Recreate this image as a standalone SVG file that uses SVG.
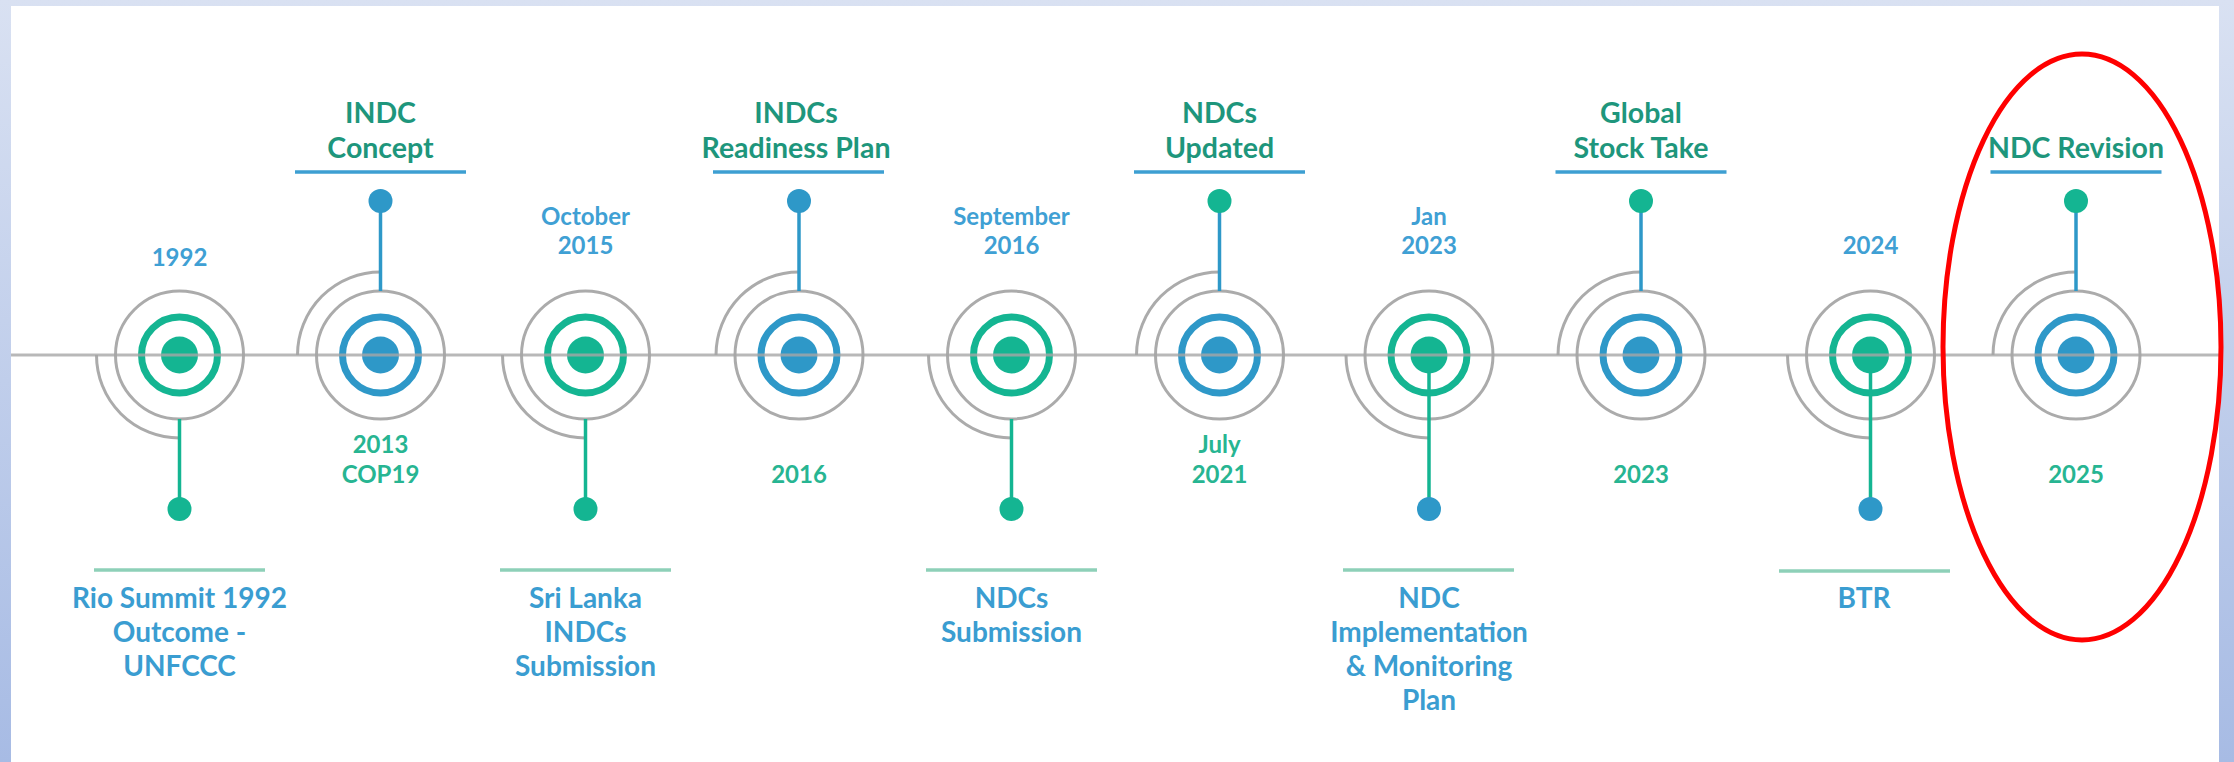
<svg xmlns="http://www.w3.org/2000/svg" width="2234" height="762" viewBox="0 0 2234 762">
<defs>
<linearGradient id="bg" x1="0" y1="0" x2="0" y2="1">
<stop offset="0" stop-color="#d9e1f2"/>
<stop offset="1" stop-color="#a7bbe4"/>
</linearGradient>
</defs>
<style>
.arc{fill:none;stroke:#ababab;stroke-width:3}
.gc{fill:none;stroke:#ababab;stroke-width:3}
.rg{fill:none;stroke:#14b592;stroke-width:7}
.rb{fill:none;stroke:#2e98c8;stroke-width:7}
.fg{fill:#14b592}
.fb{fill:#2e98c8}
.sg{stroke:#14b592;stroke-width:3.5}
.sb{stroke:#2e98c8;stroke-width:3.5}
.ol{stroke:#3d9fd2;stroke-width:3.5}
.ul{stroke:#8ed0b8;stroke-width:3.5}
text{font-family:Lato,"Open Sans","Liberation Sans",sans-serif;font-weight:700;text-anchor:middle}
.tl{font-size:28.5px;fill:#1e967c}
.bl{font-size:28px;fill:#3a9dd1}
.db{font-size:24px;fill:#3fa0d4}
.dg{font-size:24px;fill:#27b592}
.axis{stroke:#a6a6a6;stroke-width:3;stroke-opacity:0.8}
</style>
<rect x="0" y="0" width="2234" height="762" fill="url(#bg)"/>
<rect x="11" y="6" width="2208" height="756" fill="#ffffff"/>

<g id="node-1992">
<path class="arc" d="M96.5,355 A83,83 0 0 0 179.5,438"/>
<circle class="gc" cx="179.5" cy="355" r="64"/>
<circle class="rg" cx="179.5" cy="355" r="38"/>
<circle class="fg" cx="179.5" cy="355" r="18.5"/>
<line class="sg" x1="179.5" y1="419" x2="179.5" y2="509"/>
<circle class="fg" cx="179.5" cy="509" r="12"/>
<line class="ul" x1="94" y1="570" x2="265" y2="570"/>
<text class="db" x="179.5" y="266">1992</text>
<text class="bl" x="179.5" y="608">Rio Summit 1992</text>
<text class="bl" x="179.5" y="642">Outcome -</text>
<text class="bl" x="179.5" y="676">UNFCCC</text>
</g>

<g id="node-indc-concept">
<path class="arc" d="M297.5,355 A83,83 0 0 1 380.5,272"/>
<circle class="gc" cx="380.5" cy="355" r="64"/>
<circle class="rb" cx="380.5" cy="355" r="38"/>
<circle class="fb" cx="380.5" cy="355" r="18.5"/>
<line class="sb" x1="380.5" y1="291" x2="380.5" y2="201"/>
<circle class="fb" cx="380.5" cy="201" r="12"/>
<line class="ol" x1="295" y1="172" x2="466" y2="172"/>
<text class="tl" x="380.5" y="123">INDC</text>
<text class="tl" x="380.5" y="158">Concept</text>
<text class="dg" x="380.5" y="453">2013</text>
<text class="dg" x="380.5" y="483">COP19</text>
</g>

<g id="node-oct-2015">
<path class="arc" d="M502.5,355 A83,83 0 0 0 585.5,438"/>
<circle class="gc" cx="585.5" cy="355" r="64"/>
<circle class="rg" cx="585.5" cy="355" r="38"/>
<circle class="fg" cx="585.5" cy="355" r="18.5"/>
<line class="sg" x1="585.5" y1="419" x2="585.5" y2="509"/>
<circle class="fg" cx="585.5" cy="509" r="12"/>
<line class="ul" x1="500" y1="570" x2="671" y2="570"/>
<text class="db" x="585.5" y="225">October</text>
<text class="db" x="585.5" y="254">2015</text>
<text class="bl" x="585.5" y="608">Sri Lanka</text>
<text class="bl" x="585.5" y="642">INDCs</text>
<text class="bl" x="585.5" y="676">Submission</text>
</g>

<g id="node-indcs-readiness">
<path class="arc" d="M716,355 A83,83 0 0 1 799,272"/>
<circle class="gc" cx="799" cy="355" r="64"/>
<circle class="rb" cx="799" cy="355" r="38"/>
<circle class="fb" cx="799" cy="355" r="18.5"/>
<line class="sb" x1="799" y1="291" x2="799" y2="201"/>
<circle class="fb" cx="799" cy="201" r="12"/>
<line class="ol" x1="713" y1="172" x2="884" y2="172"/>
<text class="tl" x="796" y="123">INDCs</text>
<text class="tl" x="796" y="158">Readiness Plan</text>
<text class="dg" x="799" y="483">2016</text>
</g>

<g id="node-sep-2016">
<path class="arc" d="M928.5,355 A83,83 0 0 0 1011.5,438"/>
<circle class="gc" cx="1011.5" cy="355" r="64"/>
<circle class="rg" cx="1011.5" cy="355" r="38"/>
<circle class="fg" cx="1011.5" cy="355" r="18.5"/>
<line class="sg" x1="1011.5" y1="419" x2="1011.5" y2="509"/>
<circle class="fg" cx="1011.5" cy="509" r="12"/>
<line class="ul" x1="926" y1="570" x2="1097" y2="570"/>
<text class="db" x="1011.5" y="225">September</text>
<text class="db" x="1011.5" y="254">2016</text>
<text class="bl" x="1011.5" y="608">NDCs</text>
<text class="bl" x="1011.5" y="642">Submission</text>
</g>

<g id="node-ndcs-updated">
<path class="arc" d="M1136.5,355 A83,83 0 0 1 1219.5,272"/>
<circle class="gc" cx="1219.5" cy="355" r="64"/>
<circle class="rb" cx="1219.5" cy="355" r="38"/>
<circle class="fb" cx="1219.5" cy="355" r="18.5"/>
<line class="sb" x1="1219.5" y1="291" x2="1219.5" y2="201"/>
<circle class="fg" cx="1219.5" cy="201" r="12"/>
<line class="ol" x1="1134" y1="172" x2="1305" y2="172"/>
<text class="tl" x="1219.5" y="123">NDCs</text>
<text class="tl" x="1219.5" y="158">Updated</text>
<text class="dg" x="1219.5" y="453">July</text>
<text class="dg" x="1219.5" y="483">2021</text>
</g>

<g id="node-jan-2023">
<path class="arc" d="M1346,355 A83,83 0 0 0 1429,438"/>
<circle class="gc" cx="1429" cy="355" r="64"/>
<circle class="rg" cx="1429" cy="355" r="38"/>
<circle class="fg" cx="1429" cy="355" r="18.5"/>
<line class="sg" x1="1429" y1="373" x2="1429" y2="509"/>
<circle class="fb" cx="1429" cy="509" r="12"/>
<line class="ul" x1="1343" y1="570" x2="1514" y2="570"/>
<text class="db" x="1429" y="225">Jan</text>
<text class="db" x="1429" y="254">2023</text>
<text class="bl" x="1429" y="608">NDC</text>
<text class="bl" x="1429" y="642">Implementation</text>
<text class="bl" x="1429" y="676">&amp; Monitoring</text>
<text class="bl" x="1429" y="710">Plan</text>
</g>

<g id="node-global-stock-take">
<path class="arc" d="M1558,355 A83,83 0 0 1 1641,272"/>
<circle class="gc" cx="1641" cy="355" r="64"/>
<circle class="rb" cx="1641" cy="355" r="38"/>
<circle class="fb" cx="1641" cy="355" r="18.5"/>
<line class="sb" x1="1641" y1="291" x2="1641" y2="201"/>
<circle class="fg" cx="1641" cy="201" r="12"/>
<line class="ol" x1="1555.5" y1="172" x2="1726.5" y2="172"/>
<text class="tl" x="1641" y="123">Global</text>
<text class="tl" x="1641" y="158">Stock Take</text>
<text class="dg" x="1641" y="483">2023</text>
</g>

<g id="node-2024-btr">
<path class="arc" d="M1787.5,355 A83,83 0 0 0 1870.5,438"/>
<circle class="gc" cx="1870.5" cy="355" r="64"/>
<circle class="rg" cx="1870.5" cy="355" r="38"/>
<circle class="fg" cx="1870.5" cy="355" r="18.5"/>
<line class="sg" x1="1870.5" y1="373" x2="1870.5" y2="509"/>
<circle class="fb" cx="1870.5" cy="509" r="12"/>
<line class="ul" x1="1779" y1="571" x2="1950" y2="571"/>
<text class="db" x="1870.5" y="254">2024</text>
<text class="bl" x="1864" y="608">BTR</text>
</g>

<g id="node-ndc-revision">
<path class="arc" d="M1993,355 A83,83 0 0 1 2076,272"/>
<circle class="gc" cx="2076" cy="355" r="64"/>
<circle class="rb" cx="2076" cy="355" r="38"/>
<circle class="fb" cx="2076" cy="355" r="18.5"/>
<line class="sb" x1="2076" y1="291" x2="2076" y2="201"/>
<circle class="fg" cx="2076" cy="201" r="12"/>
<line class="ol" x1="1990.5" y1="172" x2="2161.5" y2="172"/>
<text class="tl" x="2076" y="158">NDC Revision</text>
<text class="dg" x="2076" y="483">2025</text>
</g>

<g id="connectors">
<line class="axis" x1="11" y1="355" x2="2219" y2="355"/>
</g>

<g id="highlight">
<ellipse cx="2082" cy="347" rx="139" ry="293" fill="none" stroke="#ff0000" stroke-width="5"/>
</g>
</svg>
